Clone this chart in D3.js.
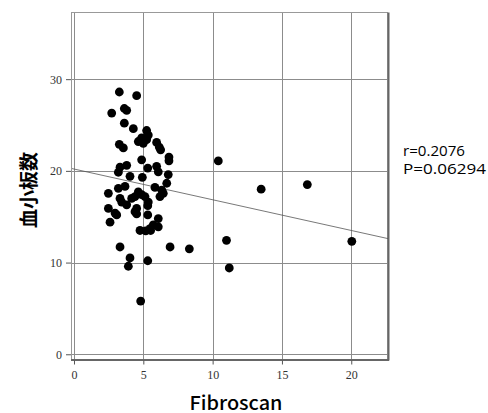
<!DOCTYPE html>
<html>
<head>
<meta charset="utf-8">
<script src="https://cdn.jsdelivr.net/npm/d3@7"></script>
<style>
  body { margin: 0; background: #fff; }
  svg { display: block; }
</style>
</head>
<body>
<div id="chart"></div>
<script>
// Fibroscan values (x) and platelet counts (y)
var fibroscan = [
  3.27, 4.52, 2.72, 3.63, 3.8, 3.63, 4.28, 5.24, 5.36, 4.88,
  4.64, 5.0, 5.24, 5.96, 6.15, 6.25, 3.27, 3.56, 6.85, 6.85,
  4.88, 3.32, 3.8, 5.32, 5.96, 3.2, 4.04, 4.93, 6.08, 6.8,
  2.48, 3.2, 3.68, 6.69, 5.84, 6.33, 6.44, 6.2, 4.64, 4.88,
  5.12, 4.4, 4.16, 5.36, 3.32, 3.44, 3.8, 4.52, 4.52, 2.48,
  2.96, 3.08, 5.32, 5.32, 6.08, 2.6, 5.72, 6.08, 5.48, 4.76,
  5.17, 5.53, 3.32, 4.04, 3.92, 5.32, 4.81, 6.93, 8.32, 10.41,
  13.5, 16.83, 20.04, 11.0, 11.2, 4.4
];
var platelets = [
  28.6, 28.2, 26.3, 26.8, 26.6, 25.2, 24.6, 24.4, 23.9, 23.6,
  23.2, 23.0, 23.4, 23.1, 22.6, 22.3, 22.9, 22.5, 21.5, 21.1,
  21.2, 20.4, 20.6, 20.3, 20.5, 19.85, 19.4, 19.3, 19.9, 19.6,
  17.55, 18.1, 18.3, 18.65, 18.2, 17.9, 17.55, 17.2, 17.7, 17.4,
  17.2, 17.2, 17.0, 16.6, 17.0, 16.6, 16.3, 15.9, 15.3, 15.9,
  15.4, 15.2, 16.2, 15.2, 14.8, 14.4, 14.1, 13.9, 13.7, 13.5,
  13.45, 13.5, 11.7, 10.5, 9.6, 10.2, 5.8, 11.7, 11.5, 21.08,
  18.0, 18.5, 12.32, 12.43, 9.41, 15.55
];
var xTicks = [0, 5, 10, 15, 20];
var yTicks = [0, 10, 20, 30];
var xDomain = [-0.144, 22.65];
var yDomain = [-0.57, 37.27];
// fitted line as drawn in the reference
var fitIntercept = 20.2;
var fitSlope = -0.335;
var statLines = ["r=0.2076", "P=0.06294"];

var width = 488, height = 413;
var svg = d3.select("#chart").append("svg")
  .attr("width", width)
  .attr("height", height);

var plotLeft = 72, plotRight = 388, plotTop = 12.5, plotBottom = 359.5;

var x = d3.scaleLinear().domain(xDomain).range([plotLeft, plotRight]);
var y = d3.scaleLinear().domain(yDomain).range([plotBottom, plotTop]);

// grid lines
svg.append("g").selectAll("line")
  .data(xTicks).enter().append("line")
  .attr("x1", function (d) { return Math.round(x(d)) + 0.5; })
  .attr("x2", function (d) { return Math.round(x(d)) + 0.5; })
  .attr("y1", plotTop).attr("y2", plotBottom)
  .style("stroke", "#8c8c8c").style("stroke-width", 1);

svg.append("g").selectAll("line")
  .data(yTicks).enter().append("line")
  .attr("x1", plotLeft).attr("x2", plotRight)
  .attr("y1", function (d) { return Math.round(y(d)) + 0.5; })
  .attr("y2", function (d) { return Math.round(y(d)) + 0.5; })
  .style("stroke", "#8c8c8c").style("stroke-width", 1);

// frame
svg.append("rect")
  .attr("x", plotLeft - 0.5).attr("y", plotTop)
  .attr("width", plotRight - plotLeft).attr("height", plotBottom - plotTop)
  .style("fill", "none").style("stroke", "#999").style("stroke-width", 1);
svg.append("line")
  .attr("x1", plotLeft - 1).attr("x2", plotRight + 1)
  .attr("y1", plotBottom + 0.5).attr("y2", plotBottom + 0.5)
  .style("stroke", "#666").style("stroke-width", 2);
svg.append("line")
  .attr("x1", plotRight + 0.5).attr("x2", plotRight + 0.5)
  .attr("y1", plotTop).attr("y2", plotBottom + 1)
  .style("stroke", "#666").style("stroke-width", 2);

// fit line, clipped to the plot
svg.append("clipPath").attr("id", "plotclip")
  .append("rect").attr("x", plotLeft).attr("y", plotTop)
  .attr("width", plotRight - plotLeft).attr("height", plotBottom - plotTop);

svg.append("line")
  .attr("clip-path", "url(#plotclip)")
  .attr("x1", x(xDomain[0])).attr("y1", y(fitIntercept + fitSlope * xDomain[0]))
  .attr("x2", x(xDomain[1])).attr("y2", y(fitIntercept + fitSlope * xDomain[1]))
  .style("stroke", "#555").style("stroke-width", 0.8);

// axes
var xAxis = svg.append("g")
  .attr("transform", "translate(0," + (plotBottom + 1) + ")")
  .call(d3.axisBottom(x).tickValues(xTicks).tickSize(4).tickPadding(6));
var yAxis = svg.append("g")
  .attr("transform", "translate(" + (plotLeft - 1) + ",0)")
  .call(d3.axisLeft(y).tickValues(yTicks).tickSize(5).tickPadding(4));

[xAxis, yAxis].forEach(function (ax) {
  ax.select(".domain").remove();
  ax.selectAll(".tick line").attr("stroke", "#555");
  ax.selectAll(".tick text")
    .attr("fill", "#333")
    .style("font-family", "'Liberation Serif', 'DejaVu Serif', serif")
    .style("font-size", "12px");
});

// points
svg.append("g").selectAll("circle")
  .data(fibroscan.map(function (v, i) { return [v, platelets[i]]; }))
  .enter().append("circle")
  .attr("cx", function (d) { return x(d[0]); })
  .attr("cy", function (d) { return y(d[1]); })
  .attr("r", 4.4)
  .style("fill", "#000");

// axis titles
svg.append("text")
  .attr("x", 236).attr("y", 410)
  .attr("text-anchor", "middle")
  .attr("textLength", 93)
  .attr("lengthAdjust", "spacingAndGlyphs")
  .style("font-family", "'Noto Sans CJK JP', sans-serif")
  .style("font-weight", "500")
  .style("font-size", "19px")
  .text("Fibroscan");

svg.append("text")
  .attr("transform", "translate(36,190) rotate(-90)")
  .attr("text-anchor", "middle")
  .style("font-family", "'Noto Sans CJK JP', sans-serif")
  .style("font-weight", "bold")
  .style("font-size", "19px")
  .text("血小板数");

// r / P annotation
var statWidths = [62, 83];
svg.append("g").selectAll("text")
  .data(statLines).enter().append("text")
  .attr("x", 403)
  .attr("y", function (d, i) { return 156 + i * 18; })
  .attr("textLength", function (d, i) { return statWidths[i]; })
  .attr("lengthAdjust", "spacingAndGlyphs")
  .style("font-family", "'Open Sans', sans-serif")
  .style("font-size", "15px")
  .style("fill", "#000")
  .text(function (d) { return d; });
</script>
</body>
</html>
